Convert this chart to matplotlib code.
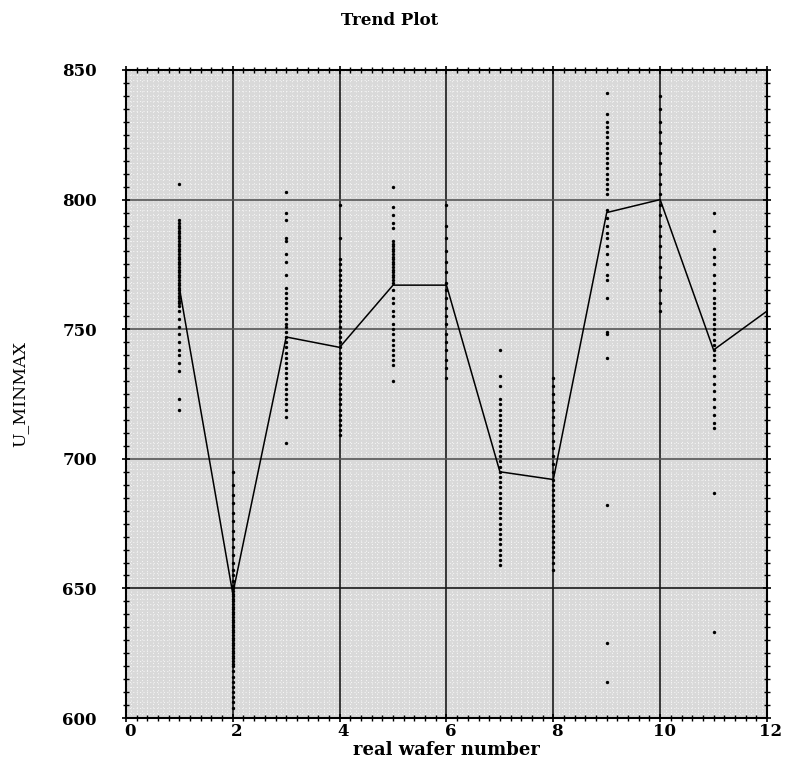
import matplotlib
matplotlib.use("Agg")
import matplotlib.pyplot as plt
from matplotlib.ticker import MultipleLocator
from matplotlib.transforms import ScaledTranslation

# ---- data ----
wafers = [1, 2, 3, 4, 5, 6, 7, 8, 9, 10, 11]
w1 = [806, 792, 791, 790, 789, 788, 787, 786, 785, 784, 783, 782, 781, 780, 779, 778, 777, 776, 775, 774,
      773, 772, 771, 770, 769, 768, 767, 766, 765, 764, 763, 762, 761, 760, 759, 757, 754, 751, 748, 745,
      742, 740, 737, 734, 723, 719]
w2 = [695, 690, 686, 683, 679, 676, 672, 669, 666, 663, 660, 657, 655, 653, 651, 650, 649, 648, 647, 646,
      645, 644, 643, 642, 641, 640, 639, 638, 637, 636, 635, 634, 633, 632, 631, 630, 629, 628, 627, 626,
      625, 624, 623, 622, 621, 620, 618, 616, 614, 612, 610, 608, 606, 604]
w3 = [803, 795, 792, 785, 784, 779, 776, 771, 766, 764, 762, 760, 758, 756, 754, 752, 751, 749, 747, 745,
      743, 741, 739, 737, 735, 733, 731, 729, 727, 725, 723, 721, 719, 716, 706]
w4 = [798, 785, 777, 775, 773, 771, 769, 767, 765, 763, 761, 759, 757, 755, 753, 751, 749, 747, 745, 743,
      741, 739, 737, 735, 733, 731, 729, 727, 725, 723, 721, 719, 717, 715, 713, 711, 709]
w5 = [805, 797, 794, 791, 789, 784, 783, 782, 781, 780, 779, 778, 777, 776, 775, 774, 773, 772, 771, 770,
      769, 768, 765, 762, 760, 757, 755, 752, 750, 748, 746, 744, 742, 740, 738, 736, 730]
w6 = [798, 790, 785, 780, 776, 772, 768, 765, 762, 758, 755, 752, 748, 745, 742, 738, 735, 731]
w7 = [742, 732, 728, 723, 721, 719, 717, 715, 713, 711, 709, 707, 705, 703, 701, 699, 697, 695, 693, 691,
      689, 687, 685, 683, 681, 679, 677, 675, 673, 671, 669, 667, 665, 663, 661, 659]
w8 = [731, 728, 725, 722, 719, 716, 713, 710, 707, 704, 701, 698, 695, 692, 690, 688, 686, 684, 682, 680,
      678, 676, 674, 672, 670, 668, 666, 664, 662, 660, 657]
w9 = [841, 833, 830, 828, 826, 824, 822, 820, 818, 816, 814, 812, 810, 808, 806, 804, 802, 796, 793, 790,
      787, 785, 782, 779, 775, 771, 769, 762, 749, 748, 739, 682, 629, 614]
w10 = [840, 835, 830, 826, 822, 818, 814, 810, 806, 802, 798, 794, 790, 786, 782, 778, 774, 770, 765, 760, 757]
w11 = [795, 788, 781, 778, 775, 771, 768, 765, 762, 760, 758, 756, 754, 752, 750, 748, 746, 744, 742, 740,
       738, 735, 732, 729, 726, 723, 720, 717, 714, 712, 687, 633]
wafer_values = [w1, w2, w3, w4, w5, w6, w7, w8, w9, w10, w11]

trend_x = [1, 2, 3, 4, 5, 6, 7, 8, 9, 10, 11, 12]
trend_y = [766, 648, 747, 743, 767, 767, 695, 692, 795, 800, 742, 757]

x_ticks = [0, 2, 4, 6, 8, 10, 12]
y_ticks = [600, 650, 700, 750, 800, 850]

# ---- plot ----
fig = plt.figure(figsize=(7.87, 7.65), dpi=100)
ax = fig.add_axes([0.160, 0.0614, 0.8146, 0.8471])
serif = ["DejaVu Serif", "Liberation Serif"]

ax.set_facecolor("#d9d9d9")
ax.set_xlim(0, 12)
ax.set_ylim(600, 850)

# fine dotted background texture
ax.xaxis.set_minor_locator(MultipleLocator(0.2))
ax.yaxis.set_minor_locator(MultipleLocator(5))
for xv in [i * 0.1 for i in range(1, 120)]:
    ax.axvline(xv, color="white", lw=0.7, ls=(0, (1, 2.5)), alpha=0.8, zorder=0)
for yv in range(602, 850, 2):
    ax.axhline(yv, color="white", lw=0.7, ls=(0, (1, 2.5)), alpha=0.8, zorder=0)

# major grid lines
for xv in [2, 4, 6, 8, 10]:
    ax.axvline(xv, color="#1a1a1a", lw=1.2, zorder=1)
for yv, c in [(650, "#1a1a1a"), (700, "#555555"), (750, "#555555"), (800, "#555555")]:
    ax.axhline(yv, color=c, lw=1.2, zorder=1)

for w, vals in zip(wafers, wafer_values):
    ax.scatter([w] * len(vals), vals, s=6, color="black", linewidths=0, zorder=3)

ax.plot(trend_x, trend_y, color="black", lw=1.1, zorder=4)

ax.set_xticks(x_ticks)
ax.set_yticks(y_ticks)
ax.tick_params(which="both", direction="inout", top=True, right=True, color="black")
ax.tick_params(which="major", length=6, width=1.2, labelsize=12)
ax.tick_params(which="minor", length=4, width=1.0)
ax.tick_params(axis="y", which="major", pad=18)
ax.tick_params(axis="x", which="major", pad=0.5)
for lab in ax.get_xticklabels() + ax.get_yticklabels():
    lab.set_family(serif)
    lab.set_fontweight("semibold")
offset = ScaledTranslation(4 / 100, 0, fig.dpi_scale_trans)
for lab in ax.get_xticklabels():
    lab.set_transform(lab.get_transform() + offset)
for s in ax.spines.values():
    s.set_linewidth(1.5)
    s.set_color("black")

ax.set_xlabel("real wafer number", family=serif, fontsize=13, fontweight="bold", labelpad=1)
ax.set_ylabel("U_MINMAX", family=serif, fontsize=12.5, labelpad=24)
fig.text(0.495, 0.973, "Trend Plot", family=serif, fontsize=12, fontweight="bold", ha="center", va="center")

fig.savefig("out.png", dpi=100)
